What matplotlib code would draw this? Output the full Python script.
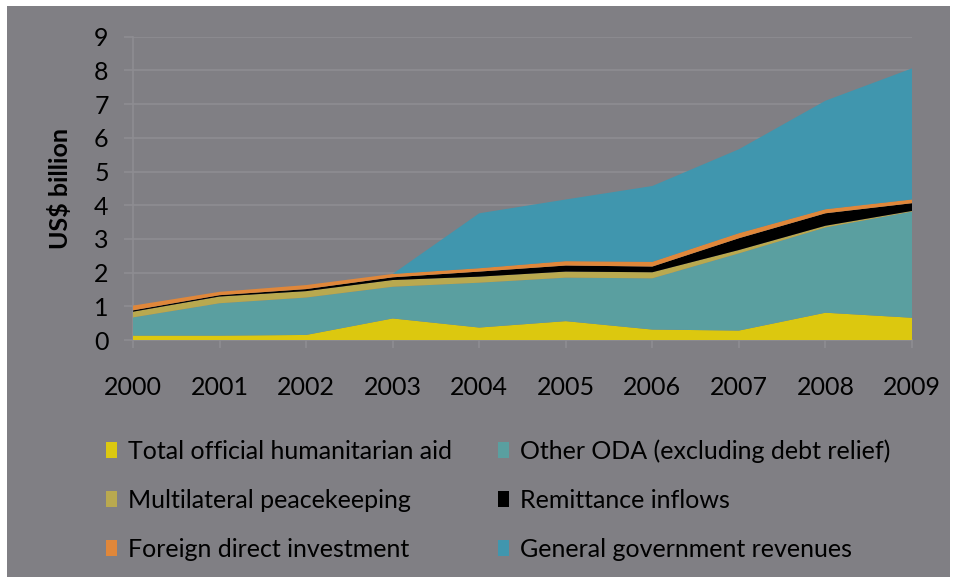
import matplotlib
matplotlib.use("Agg")
import matplotlib.pyplot as plt
from matplotlib.patches import Rectangle, Patch

years = [2000, 2001, 2002, 2003, 2004, 2005, 2006, 2007, 2008, 2009]
humanitarian = [0.13, 0.13, 0.15, 0.64, 0.37, 0.56, 0.31, 0.28, 0.81, 0.66]
other_oda = [0.54, 0.96, 1.11, 0.94, 1.33, 1.29, 1.52, 2.29, 2.53, 3.15]
peacekeeping = [0.17, 0.20, 0.19, 0.20, 0.18, 0.18, 0.18, 0.10, 0.05, 0.02]
remittances = [0.04, 0.04, 0.06, 0.08, 0.15, 0.18, 0.17, 0.35, 0.37, 0.23]
fdi = [0.14, 0.10, 0.12, 0.10, 0.10, 0.13, 0.14, 0.15, 0.12, 0.11]
gov_revenues = [0.0, 0.0, 0.0, 0.0, 1.63, 1.83, 2.25, 2.49, 3.22, 3.89]

labels = ["Total official humanitarian aid", "Other ODA (excluding debt relief)",
          "Multilateral peacekeeping", "Remittance inflows",
          "Foreign direct investment", "General government revenues"]
colors = ["#dcc80f", "#5a9fa0", "#b9a94f", "#000000", "#e0873a", "#4096ae"]
y_ticks = list(range(0, 10))

BG = "#807f84"
GRID = "#8e8d92"
FONT = "Lato"
FS = 18
plt.rcParams["font.family"] = [FONT, "DejaVu Sans"]

W, H = 956, 581
fig = plt.figure(figsize=(W / 100, H / 100), dpi=100, facecolor="white")
fig.patches.append(Rectangle((7 / W, 1 - 577 / H), (950 - 7) / W, (577 - 6) / H,
                             transform=fig.transFigure, facecolor=BG, edgecolor="none", zorder=-5))

ax = fig.add_axes([133 / W, 1 - 340 / H, (912 - 133) / W, (340 - 36.7) / H])
ax.set_zorder(1)
ax.set_facecolor(BG)
series = [humanitarian, other_oda, peacekeeping, remittances, fdi, gov_revenues]
ax.stackplot(years, *series, colors=colors, linewidth=0, zorder=3)

ax.set_xlim(years[0], years[-1])
ax.set_ylim(0, 9)
ax.set_yticks(y_ticks)
ax.set_xticks(years)
ax.grid(axis="y", color=GRID, linewidth=1.2, zorder=1)
ax.set_axisbelow(True)
for s in ["top", "right"]:
    ax.spines[s].set_visible(False)
for s in ["left", "bottom"]:
    ax.spines[s].set_color(GRID)
    ax.spines[s].set_linewidth(1.2)
    ax.spines[s].set_zorder(2)
ax.tick_params(axis="x", colors=GRID, length=6, width=1.2, pad=20, labelsize=FS, labelcolor="black")
ax.tick_params(axis="y", colors=GRID, length=6.5, width=1.2, pad=11, labelsize=FS, labelcolor="black")
ax.set_ylabel("US$ billion", fontsize=FS, fontweight="bold", labelpad=16)

handles = [Patch(facecolor=c, edgecolor="none") for c in colors]
order = [0, 2, 4, 1, 3, 5]
leg = fig.legend([handles[i] for i in order], [labels[i] for i in order], ncol=2,
                 loc="upper left", bbox_to_anchor=(106 / W, 1 - 439 / H),
                 frameon=False, fontsize=FS, handlelength=0.42, handleheight=0.62,
                 handletextpad=0.45, columnspacing=1.85, labelspacing=1.05,
                 borderaxespad=0, borderpad=0)

fig.savefig("out.png", dpi=100, facecolor="white")
